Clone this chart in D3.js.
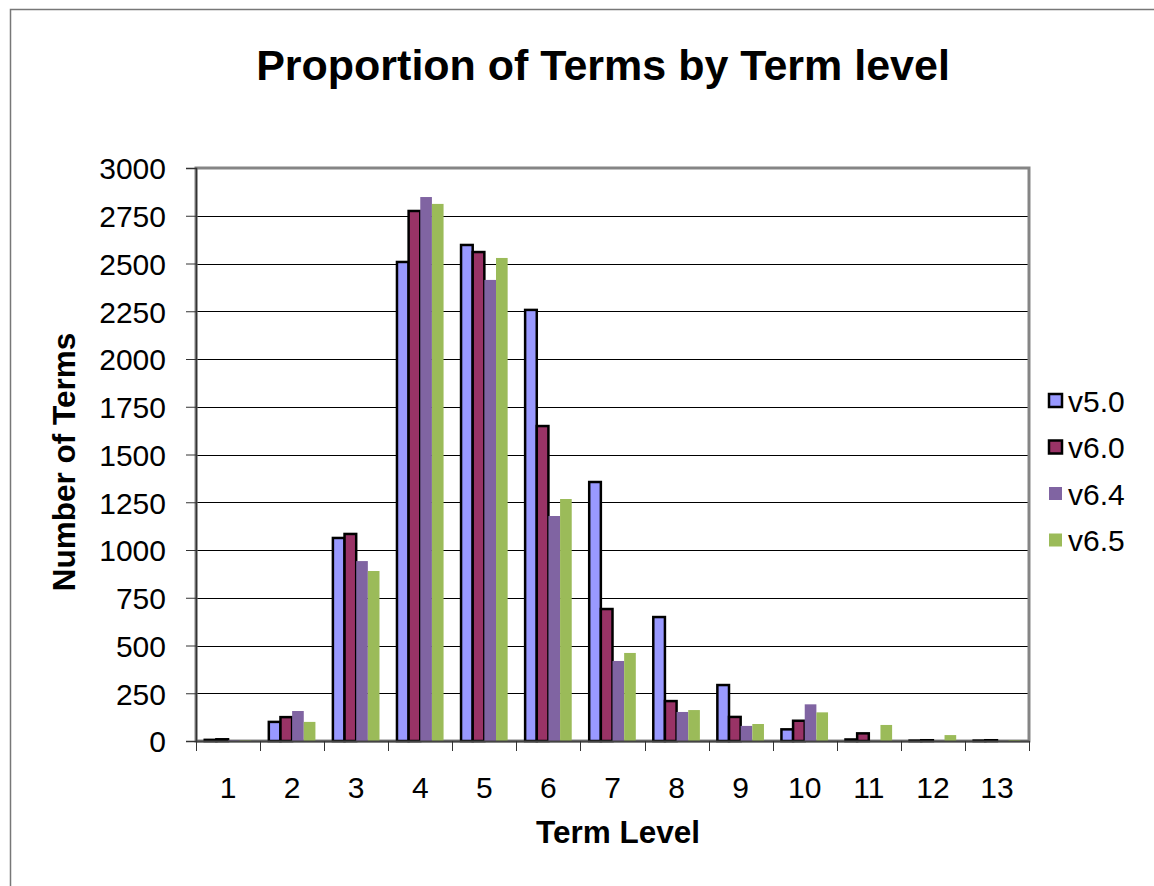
<!DOCTYPE html>
<html>
<head>
<meta charset="utf-8">
<script src="https://cdn.jsdelivr.net/npm/d3@7"></script>
<style>
  body { margin: 0; background: #fff; }
  text { font-family: "Liberation Sans", Arial, sans-serif; fill: #000; }
</style>
</head>
<body>
<div id="chart"></div>
<script>
var width = 1154;
var height = 886;
var margin = {left: 196, right: 125, top: 168, bottom: 145};

// data
var levels = ["1", "2", "3", "4", "5", "6", "7", "8", "9", "10", "11", "12", "13"];
var seriesNames = ["v5.0", "v6.0", "v6.4", "v6.5"];
var v50 = [6, 100, 1063, 2508, 2597, 2257, 1356, 649, 293, 61, 8, 2, 2];
var v60 = [9, 125, 1084, 2775, 2560, 1649, 691, 209, 126, 106, 40, 4, 4];
var v64 = [3, 157, 942, 2848, 2414, 1178, 419, 152, 79, 192, 0, 0, 0];
var v65 = [3, 100, 890, 2812, 2529, 1267, 461, 162, 89, 150, 84, 31, 5];
var yTicks = [0, 250, 500, 750, 1000, 1250, 1500, 1750, 2000, 2250, 2500, 2750, 3000];

var fills = ["#9999ff", "#993366", "#8064a2", "#9bbb59"];
var strokes = ["#000", "#000", "none", "none"];
var allSeries = [v50, v60, v64, v65];

var svg = d3.select("#chart").append("svg")
      .attr("width", width)
      .attr("height", height);

// outer chart border (only left/top visible)
svg.append("rect")
      .attr("x", 10.5).attr("y", 9.5)
      .attr("width", width + 20).attr("height", height + 20)
      .style("fill", "none")
      .style("stroke", "#777")
      .style("stroke-width", 1.5);

var plotW = width - margin.left - margin.right;
var plotH = height - margin.top - margin.bottom;

var x0 = d3.scaleBand()
      .domain(levels)
      .range([margin.left, margin.left + plotW]);

var x1 = d3.scaleBand()
      .domain(seriesNames)
      .range([0, x0.bandwidth()])
      .paddingInner(0)
      .paddingOuter(0.75);

var y = d3.scaleLinear()
      .domain([0, 3000])
      .range([margin.top + plotH, margin.top]);

// gridlines
svg.append("g").selectAll("line")
      .data(yTicks.slice(1, -1))
      .enter().append("line")
      .attr("x1", margin.left).attr("x2", margin.left + plotW)
      .attr("y1", d => Math.round(y(d)) + 0.5)
      .attr("y2", d => Math.round(y(d)) + 0.5)
      .style("stroke", "#000")
      .style("stroke-width", 1);

// plot area border
svg.append("rect")
      .attr("x", margin.left).attr("y", margin.top)
      .attr("width", plotW).attr("height", plotH)
      .style("fill", "none")
      .style("stroke", "#858585")
      .style("stroke-width", 3);

// bars
var rows = levels.map((l, i) => ({level: l, vals: seriesNames.map((s, j) => ({name: s, idx: j, value: allSeries[j][i]}))}));

var groups = svg.append("g").selectAll("g")
      .data(rows)
      .enter().append("g")
      .attr("transform", d => "translate(" + x0(d.level) + ",0)");

groups.selectAll("rect")
      .data(d => d.vals)
      .enter().append("rect")
      .attr("x", d => x1(d.name))
      .attr("width", x1.bandwidth())
      .attr("y", d => y(d.value))
      .attr("height", d => y(0) - y(d.value))
      .style("fill", d => fills[d.idx])
      .style("stroke", d => strokes[d.idx])
      .style("stroke-width", 2.5);

// axes
var yAxis = d3.axisLeft(y)
      .tickValues(yTicks)
      .tickFormat(d3.format("d"))
      .tickSize(10)
      .tickPadding(20);

var yg = svg.append("g")
      .attr("transform", "translate(" + margin.left + ",0)")
      .call(yAxis);
yg.select(".domain").style("stroke", "#333").style("stroke-width", 1.5);
yg.selectAll(".tick line").style("stroke", "#333");
yg.selectAll("text")
      .style("font-size", "30px")
      .style("font-family", "Liberation Sans, Arial, sans-serif")
      .attr("dy", "0.36em");

var xAxis = d3.axisBottom(x0)
      .tickSize(0)
      .tickPadding(36);

var xg = svg.append("g")
      .attr("transform", "translate(0," + (margin.top + plotH) + ")")
      .call(xAxis);
xg.select(".domain").style("stroke", "#444").style("stroke-width", 2);
xg.selectAll("text")
      .style("font-size", "30px")
      .style("font-family", "Liberation Sans, Arial, sans-serif");

// x ticks at category boundaries
xg.append("g").selectAll("line")
      .data(levels.concat(["end"]))
      .enter().append("line")
      .attr("x1", (d, i) => Math.round(margin.left + i * x0.step()) + 0.5)
      .attr("x2", (d, i) => Math.round(margin.left + i * x0.step()) + 0.5)
      .attr("y1", 0).attr("y2", 10)
      .style("stroke", "#333");

// titles
svg.append("text")
      .attr("x", 603).attr("y", 80)
      .style("text-anchor", "middle")
      .style("font-size", "43px")
      .style("font-weight", "bold")
      .text("Proportion of Terms by Term level");

svg.append("text")
      .attr("x", 618).attr("y", 843)
      .style("text-anchor", "middle")
      .style("font-size", "31.5px")
      .style("font-weight", "bold")
      .text("Term Level");

svg.append("text")
      .attr("transform", "translate(75,462) rotate(-90)")
      .style("text-anchor", "middle")
      .style("font-size", "31.5px")
      .style("font-weight", "bold")
      .text("Number of Terms");

// legend
var legend = svg.append("g")
      .attr("transform", "translate(1048,401)");

var item = legend.selectAll("g")
      .data(seriesNames)
      .enter().append("g")
      .attr("transform", (d, i) => "translate(0," + (i * 46.5) + ")");

item.append("rect")
      .attr("x", 1).attr("y", -7)
      .attr("width", 13).attr("height", 13)
      .style("fill", (d, i) => fills[i])
      .style("stroke", (d, i) => strokes[i])
      .style("stroke-width", 2.5);

item.append("text")
      .attr("x", 20).attr("y", 0)
      .attr("dy", "0.36em")
      .style("font-size", "30px")
      .text(d => d);
</script>
</body>
</html>
